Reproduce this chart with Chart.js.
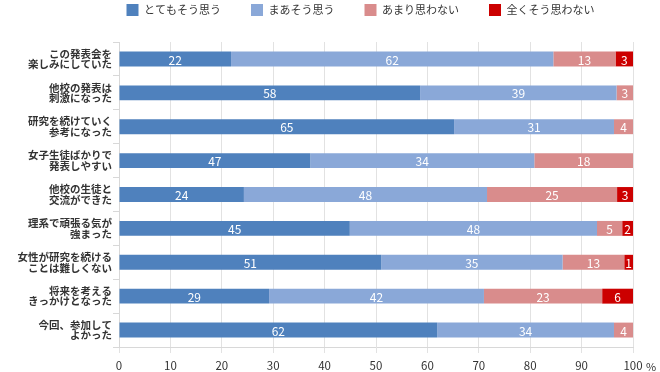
<!DOCTYPE html>
<html>
<head>
<meta charset="utf-8">
<script src="https://cdn.jsdelivr.net/npm/chart.js@4"></script>
<style>
    html, body { margin: 0; padding: 0; background: #fff; }
    #wrap { width: 660px; height: 372px; }
</style>
</head>
<body>
<div id="wrap"><canvas id="surveyChart"></canvas></div>
<script>
// questions (two lines each)
const questions = [
    ["この発表会を", "楽しみにしていた"],
    ["他校の発表は", "刺激になった"],
    ["研究を続けていく", "参考になった"],
    ["女子生徒ばかりで", "発表しやすい"],
    ["他校の生徒と", "交流ができた"],
    ["理系で頑張る気が", "強まった"],
    ["女性が研究を続ける", "ことは難しくない"],
    ["将来を考える", "きっかけとなった"],
    ["今回、参加して", "よかった"],
];

const answers = ["とてもそう思う", "まあそう思う", "あまり思わない", "全くそう思わない"];

// bar lengths (%) as drawn
const veryAgree = [21.8, 58.6, 65.2, 37.2, 24.3, 44.9, 51.0, 29.2, 61.9];
const agree     = [62.7, 38.2, 31.1, 43.6, 47.3, 48.1, 35.3, 41.8, 34.4];
const disagree  = [12.1, 3.2, 3.7, 19.2, 25.3, 4.9, 12.0, 23.0, 3.7];
const strongDis = [3.4, 0, 0, 0, 3.1, 2.1, 1.7, 6.0, 0];

// numbers printed on the bars
const veryAgreeLbl = [22, 58, 65, 47, 24, 45, 51, 29, 62];
const agreeLbl     = [62, 39, 31, 34, 48, 48, 35, 42, 34];
const disagreeLbl  = [13, 3, 4, 18, 25, 5, 13, 23, 4];
const strongDisLbl = [3, null, null, null, 3, 2, 1, 6, null];

const xTicks = [0, 10, 20, 30, 40, 50, 60, 70, 80, 90, 100];

const colors = ["#4f81bd", "#8aa8d8", "#d98c8c", "#cc0000"];
const FONT = "'Noto Sans CJK JP', 'Noto Sans', sans-serif";

const series = [veryAgree, agree, disagree, strongDis];
const seriesLbl = [veryAgreeLbl, agreeLbl, disagreeLbl, strongDisLbl];

// white numbers in the middle of each segment
const barLabels = {
    id: "barLabels",
    afterDatasetsDraw(chart) {
        const ctx = chart.ctx;
        ctx.save();
        ctx.fillStyle = "#fff";
        ctx.font = "12px " + FONT;
        ctx.textAlign = "center";
        ctx.textBaseline = "middle";
        chart.data.datasets.forEach((ds, di) => {
            const meta = chart.getDatasetMeta(di);
            meta.data.forEach((bar, i) => {
                const txt = seriesLbl[di][i];
                if (txt === null) return;
                ctx.fillText(String(txt), (bar.x + bar.base) / 2, bar.y + 1);
            });
        });
        ctx.restore();
    }
};

// "%" unit next to the last tick
const unitLabel = {
    id: "unitLabel",
    afterDraw(chart) {
        const ctx = chart.ctx;
        const x = chart.scales.x;
        ctx.save();
        ctx.fillStyle = "#333";
        ctx.font = "11px " + FONT;
        ctx.textAlign = "left";
        ctx.textBaseline = "middle";
        ctx.fillText("%", x.getPixelForValue(100) + 13, 367);
        ctx.restore();
    }
};

// legend: keep the plot top at ~38px and pull the items up / to the right
const legendGap = {
    id: "legendGap",
    beforeInit(chart) {
        const fit = chart.legend.fit;
        chart.legend.fit = function() {
            fit.bind(chart.legend)();
            this.height -= 10;
        };
    },
    beforeDraw(chart) {
        const lg = chart.legend;
        lg.top -= 26;
        lg.bottom -= 26;
        lg.left += 44;
        lg.right += 44;
    }
};

const ctx = document.getElementById("surveyChart").getContext("2d");
new Chart(ctx, {
    type: "bar",
    data: {
        labels: questions,
        datasets: answers.map((name, i) => ({
            label: name,
            data: series[i],
            backgroundColor: colors[i],
            borderWidth: 0,
            barPercentage: 0.44,
            categoryPercentage: 1.0,
        })),
    },
    options: {
        indexAxis: "y",
        responsive: true,
        maintainAspectRatio: false,
        animation: false,
        layout: {
            padding: { left: 0, right: 27, top: 0, bottom: 0 }
        },
        scales: {
            x: {
                stacked: true,
                min: 0,
                max: 100,
                afterBuildTicks(scale) {
                    scale.ticks = xTicks.map(v => ({ value: v }));
                },
                afterFit(scale) {
                    scale.height = 25;
                },
                grid: {
                    color: "#e2e2e2",
                    tickLength: 6,
                },
                border: { color: "#d8d8d8" },
                ticks: {
                    color: "#333",
                    padding: 6,
                    font: { family: FONT, size: 11.5 },
                },
            },
            y: {
                stacked: true,
                afterFit(scale) {
                    scale.width = 119;
                },
                grid: {
                    drawOnChartArea: false,
                    color: "#d8d8d8",
                    tickLength: 6,
                },
                border: { color: "#d8d8d8" },
                ticks: {
                    color: "#333",
                    padding: 1,
                    font: { family: FONT, size: 10.5, weight: "bold", lineHeight: 1.0 },
                },
            },
        },
        plugins: {
            legend: {
                position: "top",
                labels: {
                    boxWidth: 12,
                    boxHeight: 12,
                    padding: 30,
                    color: "#333",
                    font: { family: FONT, size: 11 },
                },
            },
            tooltip: { enabled: false },
        },
    },
    plugins: [barLabels, unitLabel, legendGap],
});
</script>
</body>
</html>
